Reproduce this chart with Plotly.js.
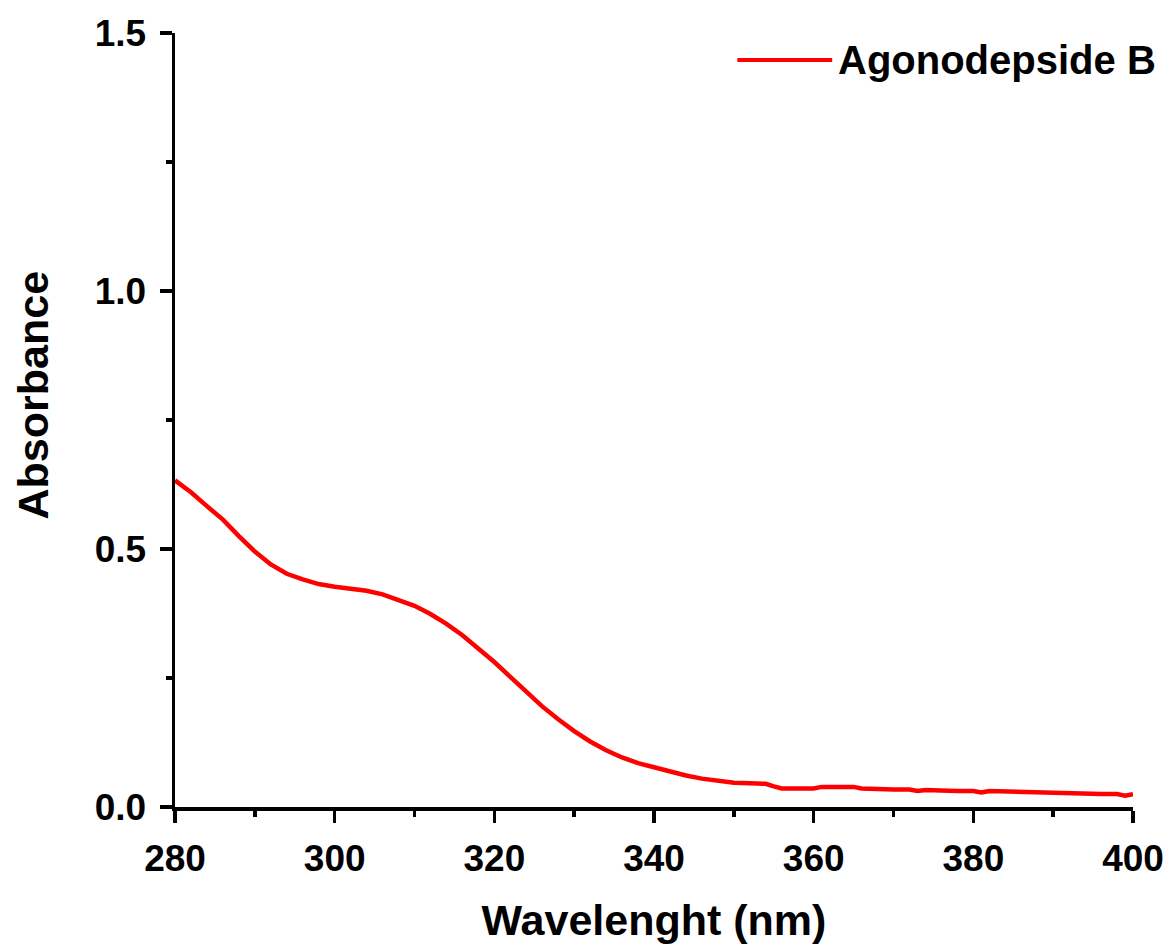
<!DOCTYPE html>
<html>
<head>
<meta charset="utf-8">
<script src="https://cdn.plot.ly/plotly-3.0.1.min.js"></script>
<style>html,body{margin:0;padding:0;background:#fff;}#chart{width:1171px;height:946px;}</style>
</head>
<body>
<div id="chart"></div>
<script>
const seriesName = "Agonodepside B";
const wavelength = [280,282,284,286,288,290,292,294,296,298,300,302,304,306,308,310,312,314,316,318,320,322,324,326,328,330,332,334,336,338,340,342,344,346,348,350,352,354,355,356,358,360,361,363,365,366,368,370,372,373,374,376,378,380,381,382,384,386,388,390,392,394,396,398,399,400];
const absorbance = [0.633,0.610,0.583,0.557,0.525,0.495,0.470,0.452,0.441,0.432,0.427,0.423,0.419,0.412,0.402,0.390,0.374,0.355,0.333,0.308,0.281,0.252,0.222,0.195,0.170,0.147,0.127,0.110,0.096,0.085,0.077,0.068,0.061,0.055,0.050,0.047,0.046,0.045,0.040,0.036,0.036,0.036,0.039,0.040,0.039,0.036,0.034,0.034,0.034,0.031,0.033,0.031,0.031,0.031,0.028,0.031,0.030,0.028,0.028,0.027,0.027,0.026,0.025,0.025,0.022,0.025];
const xTitle = "Wavelenght (nm)";
const yTitle = "Absorbance";

const FONT = "Arial, 'Liberation Sans', sans-serif";

const trace = {
  x: wavelength, y: absorbance, type: "scatter", mode: "lines",
  name: seriesName, line: {color: "#ff0000", width: 4.5}, showlegend: false
};

const layout = {
  width: 1171, height: 946,
  margin: {l: 175, r: 38, t: 33, b: 139},
  paper_bgcolor: "#fff", plot_bgcolor: "#fff",
  font: {family: FONT, color: "#000"},
  showlegend: false,
  xaxis: {
    range: [280, 400], showgrid: false, zeroline: false,
    showline: true, linecolor: "#000", linewidth: 3.5,
    ticks: "outside", ticklen: 12, tickwidth: 3.5, tickcolor: "#000",
    dtick: 20, tick0: 280, ticklabelstandoff: 4,
    minor: {dtick: 10, ticks: "outside", ticklen: 6, tickwidth: 3.5, tickcolor: "#000"},
    tickfont: {family: FONT, size: 37, color: "#000", weight: "bold"},
    title: {text: "<b>" + xTitle + "</b>", font: {family: FONT, size: 43, color: "#000"}, standoff: 28}
  },
  yaxis: {
    range: [0, 1.5], showgrid: false, zeroline: false,
    showline: true, linecolor: "#000", linewidth: 3.5,
    ticks: "outside", ticklen: 12, tickwidth: 3.5, tickcolor: "#000",
    dtick: 0.5, tick0: 0, tickformat: ".1f", ticklabelstandoff: 6,
    minor: {dtick: 0.25, ticks: "outside", ticklen: 6, tickwidth: 3.5, tickcolor: "#000"},
    tickfont: {family: FONT, size: 37, color: "#000", weight: "bold"}
  },
  shapes: [
    {type: "line", xref: "paper", yref: "paper", x0: 0.587, x1: 0.686, y0: 0.965, y1: 0.965,
     line: {color: "#ff0000", width: 4}}
  ],
  annotations: [
    {xref: "paper", yref: "paper", x: 0.690, y: 0.965, xanchor: "left", yanchor: "middle",
     text: "<b>" + seriesName + "</b>", showarrow: false,
     font: {family: FONT, size: 40, color: "#000"}},
    {xref: "paper", yref: "paper", x: -0.148, y: 0.532, xanchor: "center", yanchor: "middle",
     textangle: -90, text: "<b>" + yTitle + "</b>", showarrow: false,
     font: {family: FONT, size: 43, color: "#000"}}
  ]
};

Plotly.newPlot("chart", [trace], layout, {staticPlot: true, displayModeBar: false});
</script>
</body>
</html>
